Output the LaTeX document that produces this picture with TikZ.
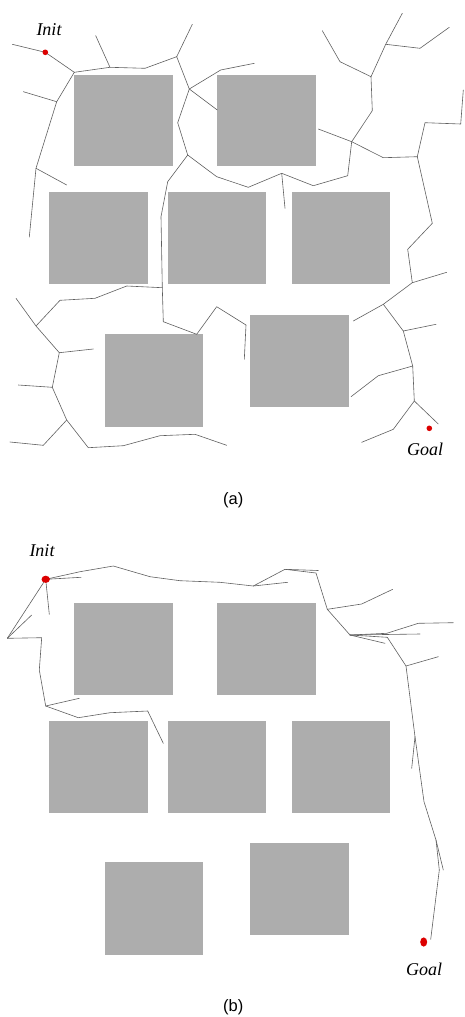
\documentclass[tikz,border=0pt]{standalone}
\usepackage{fontspec}
\setmainfont{Liberation Serif}
\newfontfamily\capfont{Liberation Sans}
\definecolor{obst}{RGB}{173,173,173}
\definecolor{edgecol}{RGB}{95,95,95}
\definecolor{dotred}{RGB}{220,0,0}
\tikzset{
  obstacle/.style={fill=obst, draw=none},
  edge/.style={draw=edgecol, line width=0.6pt, line join=round, line cap=round},
  lbl/.style={font=\fontsize{18}{20}\selectfont\itshape, inner sep=0pt},
  captext/.style={font=\capfont\fontsize{16.5}{18}\selectfont, inner sep=0pt},
  pt/.style={fill=dotred, draw=none}
}
\begin{document}
\begin{tikzpicture}[x=1pt,y=-1pt]
\useasboundingbox (0,0) rectangle (465,1017);

% ---------- panel (a): obstacles ----------
\foreach \xa/\ya/\xb/\yb in {74/75/173/166, 217/75/316/166,
  49/192/148/284, 168/192/266/284, 292/192/390/284,
  105/334/203/427, 250/315/349/407}
  \fill[obstacle] (\xa,\ya) rectangle (\xb,\yb);

% ---------- panel (a): tree grown from Init ----------
\draw[edge] (12.3,44.3) -- (45.3,52.3) -- (74.3,72.3);
\draw[edge] (74.3,72.3) -- (110,67.3) -- (145,68.3) -- (176.7,56.7);
\draw[edge] (110,67.3) -- (95.7,35.7);
\draw[edge] (176.7,56.7) -- (192.3,24.3);
\draw[edge] (176.7,56.7) -- (189.3,89);
\draw[edge] (189.3,89) -- (220.7,70) -- (254.3,63.3);
\draw[edge] (189.3,89) -- (217.3,110);
\draw[edge] (189.3,89) -- (177.7,122.7) -- (187.7,155);
\draw[edge] (187.7,155) -- (216.7,176.7) -- (248.3,187.3) -- (281.7,173.3)
  -- (313.3,185.7) -- (347.7,175.7) -- (351.7,141.7);
\draw[edge] (281.7,173.3) -- (285,208.3);
\draw[edge] (187.7,155) -- (167.7,181.7) -- (161,216.7) -- (162.3,287.7)
  -- (163.3,321.7) -- (196.7,334.3) -- (216.7,306.7) -- (246,325) -- (244.3,359.3);
\draw[edge] (162.3,287.7) -- (126.7,286) -- (95,298.3) -- (60,300.3) -- (36,326) -- (16,298.3);
\draw[edge] (36,326) -- (59.3,352.7) -- (93.3,349);
\draw[edge] (59.3,352.7) -- (52.3,387.3) -- (18.3,385);
\draw[edge] (52.3,387.3) -- (66.7,420) -- (43.3,445.3) -- (10,442);
\draw[edge] (66.7,420) -- (88.3,447.7) -- (123.3,445.7) -- (160,435.7) -- (195,434.3) -- (226.7,445.3);
\draw[edge] (74.3,72.3) -- (56.7,101.7) -- (36,168.3) -- (29.3,237);
\draw[edge] (56.7,101.7) -- (23.3,91.7);
\draw[edge] (36,168.3) -- (66.7,185);

% ---------- panel (a): tree grown from Goal ----------
\draw[edge] (322.3,30.7) -- (340,61.7) -- (371,76.7) -- (385.7,44.3) -- (402.3,13.3);
\draw[edge] (385.7,44.3) -- (420,48.3) -- (449.3,27.3);
\draw[edge] (371,76.7) -- (372.3,110.7) -- (351.7,141.7);
\draw[edge] (318.3,129) -- (351.7,141.7) -- (383.3,157.7) -- (417.3,156.7);
\draw[edge] (417.3,156.7) -- (425,122.7) -- (460.7,124) -- (463.3,90);
\draw[edge] (417.3,156.7) -- (432.3,223.3) -- (407.7,249.3) -- (412.3,282.7) -- (446.7,272.3);
\draw[edge] (412.3,282.7) -- (383.3,304.3) -- (353.3,321);
\draw[edge] (383.3,304.3) -- (403.3,331) -- (436,324.3);
\draw[edge] (403.3,331) -- (412.7,366) -- (378.3,375.7) -- (351,396.7);
\draw[edge] (412.7,366) -- (414.3,401) -- (438.3,424);
\draw[edge] (414.3,401) -- (393.3,429.3) -- (361.7,442.3);

% ---------- panel (a): start, goal, labels ----------
\fill[pt] (45.3,52.3) circle (2.8);
\fill[pt] (429.3,428.3) circle (2.8);
\node[lbl] (initA) at (49,30) {Init};
\node[lbl] (goalA) at (425,449) {Goal};
\node[captext] (capA) at (233.3,500) {(a)};

% ---------- panel (b): obstacles ----------
\foreach \xa/\ya/\xb/\yb in {74/603/173/695, 217/603/316/695,
  49/721/148/813, 168/721/266/813, 292/721/390/813,
  105/862/203/955, 250/843/349/935}
  \fill[obstacle] (\xa,\ya) rectangle (\xb,\yb);

% ---------- panel (b): tree ----------
\draw[edge] (45.7,579.3) -- (80,571.7) -- (113.3,566) -- (150,576.7) -- (180,580.7)
  -- (220,582.3) -- (253.3,586) -- (285,569.3) -- (318.3,570.5);
\draw[edge] (285,569.3) -- (316,573) -- (327.3,609.3);
\draw[edge] (45.7,579.3) -- (81,577.3);
\draw[edge] (45.7,579.3) -- (49.3,614.3);
\draw[edge] (45.7,579.3) -- (7.3,638.3) -- (41.7,637.7) -- (39.3,670) -- (45.7,706)
  -- (78.3,717.7) -- (110,712.7) -- (147.7,711) -- (163.3,743.3);
\draw[edge] (7.3,638.3) -- (31.7,615);
\draw[edge] (45.7,706) -- (79.3,698.3);
\draw[edge] (253.3,586) -- (287.7,582.3);
\draw[edge] (327.3,609.3) -- (361.7,604) -- (392.7,589.3);
\draw[edge] (327.3,609.3) -- (350,635) -- (386.7,633.3) -- (418.3,623.3) -- (453.3,622.7);
\draw[edge] (350,635) -- (420,634);
\draw[edge] (350,635) -- (385,643.3);
\draw[edge] (350,635) -- (387.3,637.3) -- (406,666) -- (415,736.7) -- (424,801.7)
  -- (436,840) -- (439.3,870) -- (430.7,939.3);
\draw[edge] (406,666) -- (438.3,656.7);
\draw[edge] (415,736.7) -- (411.7,768.3);
\draw[edge] (436,840) -- (443.3,870);

% ---------- panel (b): start, goal, labels ----------
\fill[pt] (45.7,579.3) ellipse [x radius=4.2, y radius=3.6];
\fill[pt] (423.7,942) ellipse [x radius=3.5, y radius=4.6];
\node[lbl] (initB) at (42,551) {Init};
\node[lbl] (goalB) at (424,969) {Goal};
\node[captext] (capB) at (233.3,1007.5) {(b)};
\end{tikzpicture}
\end{document}
